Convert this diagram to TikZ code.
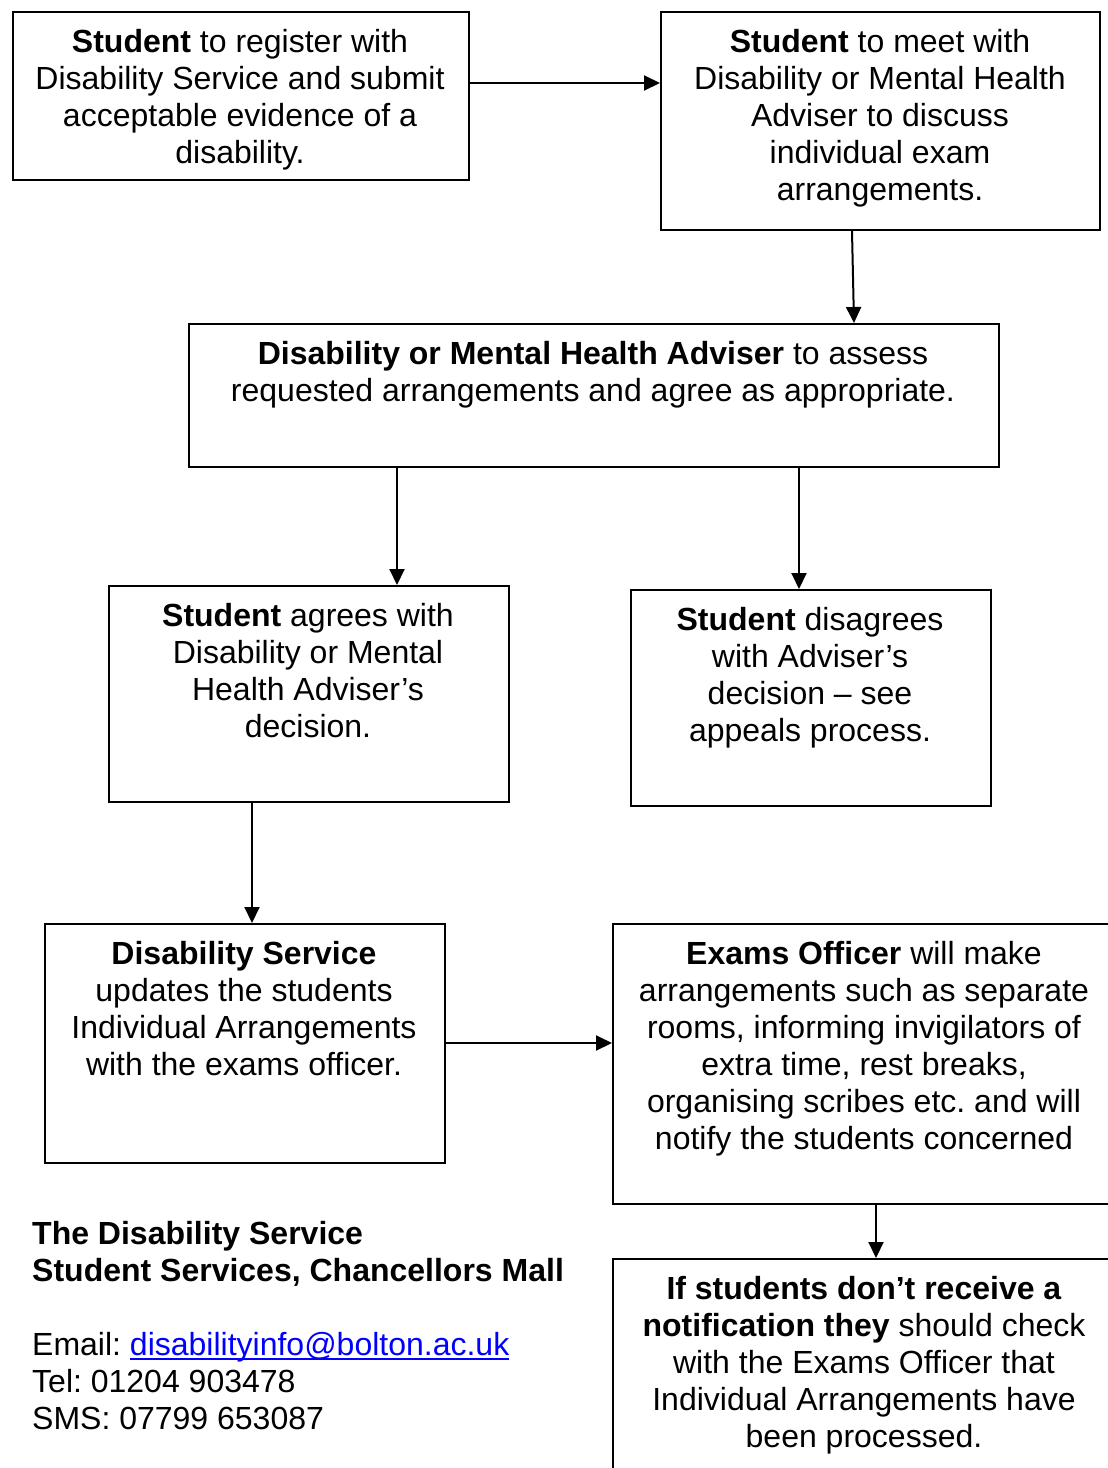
\documentclass[tikz,border=0pt]{standalone}
\usepackage{fontspec}
\setmainfont{Liberation Sans}
\usetikzlibrary{arrows.meta}
\newcommand\bigtxt{\fontsize{32}{37}\selectfont\frenchspacing}
\newcommand\myul[1]{\setbox0\hbox{#1}\rlap{\rule[-5pt]{\wd0}{2pt}}\box0}
\definecolor{linkblue}{RGB}{0,0,255}
\begin{document}
\begin{tikzpicture}[x=1pt,y=-1pt,
  box/.style={draw, line width=2pt, rectangle, inner sep=0pt, anchor=north west},
  txt/.style={anchor=north, align=center, inner sep=0pt, font=\bigtxt},
  arr/.style={line width=2pt, -{Triangle[length=16pt,width=15pt]}}]
\useasboundingbox (0,0) rectangle (1108,1468);
\clip (0,0) rectangle (1108,1468);
\fill[white] (0,0) rectangle (1108,1468);
% boxes
\node[box, minimum width=456pt, minimum height=168pt] (A) at (12,11) {};
\node[box, minimum width=439pt, minimum height=218pt] (B) at (660,11) {};
\node[box, minimum width=810pt, minimum height=143pt] (C) at (188,323) {};
\node[box, minimum width=400pt, minimum height=216pt] (D) at (108,585) {};
\node[box, minimum width=360pt, minimum height=216pt] (E) at (630,589) {};
\node[box, minimum width=400pt, minimum height=239pt] (F) at (44,923) {};
\node[box, minimum width=504pt, minimum height=280pt] (G) at (612,923) {};
\node[box, minimum width=504pt, minimum height=260pt] (H) at (612,1258) {};
% texts
\node[txt] (tA) at (240,26) {\strut\textbf{Student} to register with\\Disability Service and submit\\acceptable evidence of a\\disability.};
\node[txt] (tB) at (880,26) {\strut\textbf{Student} to meet with\\Disability or Mental Health\\Adviser to discuss\\individual exam\\arrangements.};
\node[txt] (tC) at (593,338) {\strut\textbf{Disability or Mental Health Adviser} to assess\\requested arrangements and agree as appropriate.};
\node[txt] (tD) at (308,600) {\strut\textbf{Student} agrees with\\Disability or Mental\\Health Adviser’s\\decision.};
\node[txt] (tE) at (810,604) {\strut\textbf{Student} disagrees\\with Adviser’s\\decision – see\\appeals process.};
\node[txt] (tF) at (244,938) {\strut\textbf{Disability Service}\\updates the students\\Individual Arrangements\\with the exams officer.};
\node[txt] (tG) at (864,938) {\strut\textbf{Exams Officer} will make\\arrangements such as separate\\rooms, informing invigilators of\\extra time, rest breaks,\\organising scribes etc. and will\\notify the students concerned};
\node[txt] (tH) at (864,1273) {\strut\textbf{If students don’t receive a}\\\textbf{notification they} should check\\with the Exams Officer that\\Individual Arrangements have\\been processed.};
% footer
\node[anchor=north west, align=left, inner sep=0pt, font=\bigtxt] (foot) at (32,1218)
  {\strut\textbf{The Disability Service}\\\textbf{Student Services, Chancellors Mall}\\[37pt]
   Email: \textcolor{linkblue}{\myul{disabilityinfo@bolton.ac.uk}}\\
   Tel: 01204 903478\\SMS: 07799 653087};
% connectors
\draw[arr] (A.east |- 0,83) -- (B.west |- 0,83);
\draw[arr] (B.south -| 852,0) -- (C.north -| 854,0);
\draw[arr] (C.south -| 397,0) -- (D.north -| 397,0);
\draw[arr] (C.south -| 799,0) -- (E.north -| 799,0);
\draw[arr] (D.south -| 252,0) -- (F.north -| 252,0);
\draw[arr] (F.east |- 0,1043) -- (G.west |- 0,1043);
\draw[arr] (G.south -| 876,0) -- (H.north -| 876,0);
\end{tikzpicture}
\end{document}
